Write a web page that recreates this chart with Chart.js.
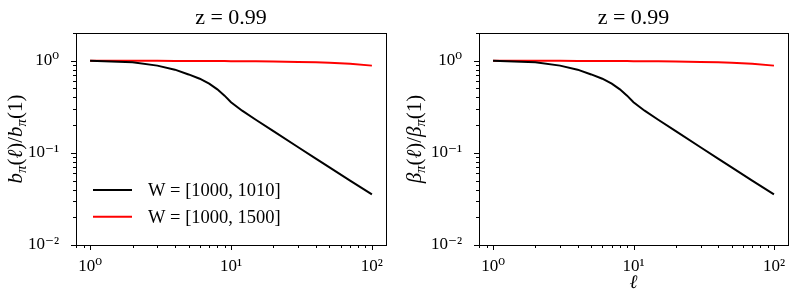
<!DOCTYPE html>
<html>
<head>
<meta charset="utf-8">
<script src="https://cdn.jsdelivr.net/npm/chart.js@4"></script>
<style>
  body { margin: 0; background: #fff; }
  #wrap { position: relative; width: 798px; height: 304px; }
  canvas { position: absolute; top: 0; }
</style>
</head>
<body>
<div id="wrap">
  <canvas id="leftPanel" width="399" height="304" style="left:0"></canvas>
  <canvas id="rightPanel" width="399" height="304" style="left:399px"></canvas>
</div>
<script>
// multipole values
var ell = [1, 2, 3, 4, 5, 6, 7, 8, 9, 10, 12, 15, 20, 30, 40, 50, 70, 100];
// W = [1000, 1010]
var narrowVals = [1, 0.96, 0.885, 0.80, 0.71, 0.638, 0.563, 0.489, 0.418, 0.355, 0.287, 0.229, 0.172, 0.115, 0.0866, 0.0695, 0.050, 0.0355];
// W = [1000, 1500]
var wideVals = [1, 0.998, 0.997, 0.996, 0.995, 0.994, 0.993, 0.992, 0.991, 0.99, 0.988, 0.985, 0.98, 0.97, 0.96, 0.95, 0.925, 0.885];
var seriesNames = ['W = [1000, 1010]', 'W = [1000, 1500]'];
var seriesColours = ['#000000', '#ff0000'];

var xTickVals = [1, 10, 100];
var xTickText = ['10⁰', '10¹', '10²'];
var yTickVals = [0.01, 0.1, 1];
var yTickText = ['10⁻²', '10⁻¹', '10⁰'];

var panelTitle = 'z = 0.99';
var serif = '"Liberation Serif", "DejaVu Serif", serif';

Chart.defaults.color = '#000';
Chart.defaults.font.family = serif;

function isPow10(v) {
  var e = Math.log10(v);
  return Math.abs(e - Math.round(e)) < 1e-9;
}

function labelFor(vals, texts) {
  return function (v) {
    for (var i = 0; i < vals.length; i++) {
      if (Math.abs(v - vals[i]) / vals[i] < 1e-6) return texts[i];
    }
    return '';
  };
}

// 1..9 per decade, like matplotlib's log locator
function decadeTicks(scale) {
  var t = [];
  var lo = Math.floor(Math.log10(scale.min)), hi = Math.ceil(Math.log10(scale.max));
  for (var e = lo; e <= hi; e++) {
    for (var k = 1; k < 10; k++) {
      var v = parseFloat((k * Math.pow(10, e)).toPrecision(6));
      if (v >= scale.min * 0.99999 && v <= scale.max * 1.00001) t.push({ value: v });
    }
  }
  scale.ticks = t;
}

var framePlugin = {
  id: 'frame',
  afterDraw: function (chart) {
    var ctx = chart.ctx, a = chart.chartArea;
    var o = chart.options.plugins.frame;
    ctx.save();
    ctx.strokeStyle = '#000';
    ctx.lineWidth = 1;
    ['x', 'y'].forEach(function (id) {
      var s = chart.scales[id];
      s.ticks.forEach(function (t) {
        var p = Math.round(s.getPixelForValue(t.value)) + 0.5;
        var len = isPow10(t.value) ? 5 : 3;
        ctx.beginPath();
        if (id === 'x') { ctx.moveTo(p, a.bottom); ctx.lineTo(p, a.bottom + len); }
        else { ctx.moveTo(a.left, p); ctx.lineTo(a.left - len, p); }
        ctx.stroke();
      });
    });
    ctx.strokeRect(Math.round(a.left) + 0.5, Math.round(a.top) + 0.5,
      Math.round(a.right - a.left), Math.round(a.bottom - a.top));

    // legend inside the axes, lower left
    if (o.legend) {
      var x0 = a.left + 17, y0 = a.bottom - 55;
      chart.data.datasets.forEach(function (ds, i) {
        var y = y0 + i * 26.7;
        ctx.strokeStyle = ds.borderColor;
        ctx.lineWidth = 2;
        ctx.beginPath(); ctx.moveTo(x0, y); ctx.lineTo(x0 + 39, y); ctx.stroke();
        ctx.fillStyle = '#000';
        ctx.font = '18.5px ' + serif;
        ctx.textBaseline = 'middle';
        ctx.textAlign = 'left';
        ctx.fillText(ds.label, x0 + 55, y + 1);
      });
    }

    // y label with subscripts, rotated
    var parts = o.ylabel, size = 21;
    function fontOf(kind) {
      if (kind === 's') return 'italic ' + (size * 0.7) + 'px ' + serif;
      if (kind === 'i') return 'italic ' + size + 'px ' + serif;
      return size + 'px ' + serif;
    }
    ctx.translate(o.ylabelX, (a.top + a.bottom) / 2);
    ctx.rotate(-Math.PI / 2);
    ctx.textBaseline = 'alphabetic';
    ctx.textAlign = 'left';
    ctx.fillStyle = '#000';
    var total = 0;
    parts.forEach(function (p) { ctx.font = fontOf(p[1]); total += ctx.measureText(p[0]).width; });
    var x = -total / 2;
    parts.forEach(function (p) {
      ctx.font = fontOf(p[1]);
      ctx.fillText(p[0], x, p[1] === 's' ? 10 : 6);
      x += ctx.measureText(p[0]).width;
    });
    ctx.restore();
  }
};

function makePanel(id, ylabel, showLegend, xTitle, yWidth, rightPad) {
  var ctx = document.getElementById(id).getContext('2d');
  return new Chart(ctx, {
    type: 'line',
    data: {
      datasets: [{
        label: seriesNames[0],
        data: ell.map(function (l, i) { return { x: l, y: narrowVals[i] }; }),
        borderColor: seriesColours[0],
        borderWidth: 2,
        pointRadius: 0,
        tension: 0
      }, {
        label: seriesNames[1],
        data: ell.map(function (l, i) { return { x: l, y: wideVals[i] }; }),
        borderColor: seriesColours[1],
        borderWidth: 2,
        pointRadius: 0,
        tension: 0
      }]
    },
    options: {
      responsive: false,
      animation: false,
      devicePixelRatio: 1,
      layout: { padding: { top: 0, right: rightPad, bottom: 0, left: 0 } },
      plugins: {
        legend: { display: false },
        tooltip: { enabled: false },
        title: {
          display: true,
          text: panelTitle,
          fullSize: false,
          font: { size: 22, weight: 'normal', family: serif },
          padding: { top: 5, bottom: 1.6 }
        },
        frame: { legend: showLegend, ylabel: ylabel, ylabelX: 16 }
      },
      scales: {
        x: {
          type: 'logarithmic',
          min: Math.pow(10, -0.1),
          max: Math.pow(10, 2.1),
          afterBuildTicks: decadeTicks,
          afterFit: function (s) { s.height = 59; },
          grid: { display: false },
          border: { display: false },
          ticks: {
            autoSkip: false, maxRotation: 0, padding: 3,
            font: { size: 17 },
            callback: labelFor(xTickVals, xTickText)
          },
          title: {
            display: !!xTitle, text: xTitle || '',
            font: { size: 19, style: 'italic', family: serif },
            padding: { top: 0, bottom: 10 }
          }
        },
        y: {
          type: 'logarithmic',
          min: 0.01,
          max: 2,
          afterBuildTicks: decadeTicks,
          afterFit: function (s) { s.width = yWidth; },
          grid: { display: false },
          border: { display: false },
          ticks: {
            autoSkip: false, padding: 9,
            font: { size: 17 },
            callback: labelFor(yTickVals, yTickText)
          }
        }
      }
    },
    plugins: [framePlugin]
  });
}

makePanel('leftPanel',
  [['b', 'i'], ['π', 's'], ['(', 'n'], ['ℓ', 'i'], [')/', 'n'], ['b', 'i'], ['π', 's'], ['(1)', 'n']],
  true, '', 76, 13);
makePanel('rightPanel',
  [['β', 'i'], ['π', 's'], ['(', 'n'], ['ℓ', 'i'], [')/', 'n'], ['β', 'i'], ['π', 's'], ['(1)', 'n']],
  false, 'ℓ', 80, 10);
</script>
</body>
</html>
